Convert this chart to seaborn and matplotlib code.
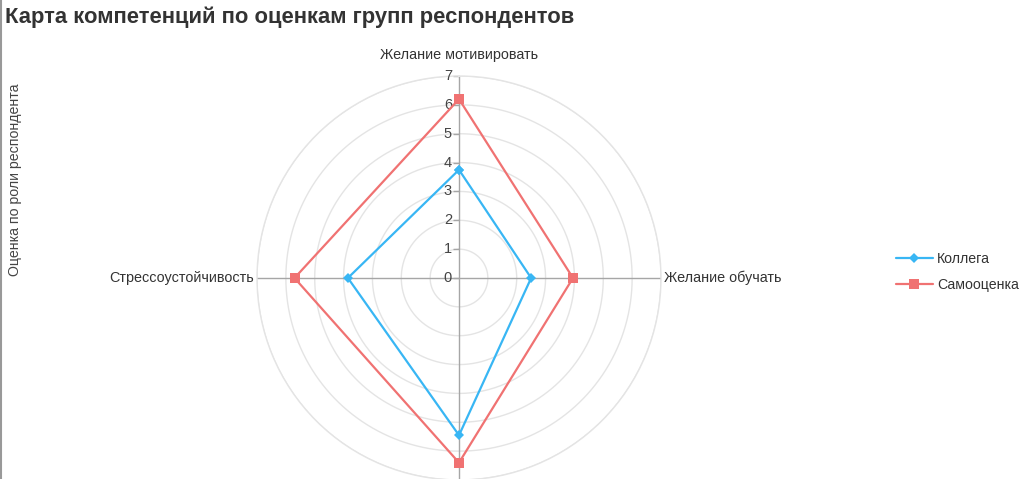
import numpy as np
import pandas as pd
import matplotlib
matplotlib.use("Agg")
import matplotlib.pyplot as plt
import matplotlib.transforms as mtransforms
from matplotlib.lines import Line2D
import seaborn as sns

# data
categories = ['Желание мотивировать', 'Желание обучать', 'Ответственность', 'Стрессоустойчивость']
shown_labels = ['Желание мотивировать', 'Желание обучать', '', 'Стрессоустойчивость']
colleague = [3.75, 2.5, 5.45, 3.85]
self_rating = [6.2, 3.95, 6.4, 5.7]
series_names = ['Коллега', 'Самооценка']
r_ticks = [0, 1, 2, 3, 4, 5, 6, 7]

colors = {'Коллега': '#38B6F4', 'Самооценка': '#F07272'}
markers = {'Коллега': 'D', 'Самооценка': 's'}
msize = {'Коллега': 5, 'Самооценка': 6.5}

sns.set_style('white')
plt.rcParams['font.family'] = ['Liberation Sans', 'DejaVu Sans']

# long table, each series closed back to its first point (at 2*pi)
angles = np.linspace(0, 2 * np.pi, len(categories), endpoint=False)
rows = []
for name, vals in zip(series_names, [colleague, self_rating]):
    for a, v in zip(angles, vals):
        rows.append({'theta': a, 'r': v, 'series': name})
    rows.append({'theta': 2 * np.pi, 'r': vals[0], 'series': name})
df = pd.DataFrame(rows)

fig = plt.figure(figsize=(10.24, 4.79), dpi=100)
W, H = 1024, 479
cx, cy, rad = 459, 278, 202
ax = fig.add_axes([(cx - rad) / W, (H - cy - rad) / H, 2 * rad / W, 2 * rad / H],
                  projection='polar')
ax.set_theta_zero_location('N')
ax.set_theta_direction(-1)

sns.lineplot(data=df, x='theta', y='r', hue='series', style='series',
             palette=colors, markers=markers, dashes=False, sort=False,
             linewidth=1.6, markersize=6, markeredgewidth=0, ax=ax, legend=False)
for line, name in zip(ax.lines, series_names):
    line.set_markersize(msize[name])
    line.set_zorder(5)

ax.set_ylim(0, 7)
ax.set_yticks(r_ticks)
ax.set_yticklabels([])
ax.set_xticks(angles)
ax.set_xticklabels([])
ax.grid(False)
ax.spines['polar'].set_color('#e4e4e4')
ax.spines['polar'].set_linewidth(1)
ax.set_xlabel('')
ax.set_ylabel('')

# circular grid
tt = np.linspace(0, 2 * np.pi, 361)
for r in r_ticks[1:]:
    ax.plot(tt, np.full_like(tt, r), color='#e4e4e4', lw=1, zorder=0)
# spokes
for a in angles:
    ax.plot([a, a], [0, 7], color='#a6a6a6', lw=1, zorder=1)

# radial tick labels along the top spoke
off = mtransforms.offset_copy(ax.transData, fig=fig, x=-5, y=0, units='points')
for r in r_ticks:
    ax.text(0, r, str(r), transform=off, ha='right', va='center', fontsize=10.5,
            color='#444444')
    ax.plot([0], [r], marker=0, color='#a6a6a6', markersize=4, mew=1, clip_on=False)

# category labels
fs = 10.4
for a, lab in zip(angles, shown_labels):
    if not lab:
        continue
    deg = np.degrees(a)
    if np.isclose(deg, 0):
        ax.text(a, 7, lab, transform=mtransforms.offset_copy(ax.transData, fig=fig, x=0, y=15, units='points'),
                ha='center', va='center', fontsize=fs, color='#333333')
    elif np.isclose(deg, 90):
        ax.text(a, 7, lab, transform=mtransforms.offset_copy(ax.transData, fig=fig, x=2, y=0, units='points'),
                ha='left', va='center', fontsize=fs, color='#333333')
    elif np.isclose(deg, 270):
        ax.text(a, 7, lab, transform=mtransforms.offset_copy(ax.transData, fig=fig, x=-2, y=0, units='points'),
                ha='right', va='center', fontsize=fs, color='#333333')

fig.text(5 / W, 1 - 17 / H, 'Карта компетенций по оценкам групп респондентов',
         fontsize=15.8, fontweight='bold', color='#333333', ha='left', va='center')
fig.text(15 / W, 1 - 180 / H, 'Оценка по роли респондента', rotation=90,
         fontsize=10.2, color='#444444', ha='center', va='center')

handles = [Line2D([], [], color=colors[n], marker=markers[n], lw=1.6,
                  markersize=msize[n], mew=0) for n in series_names]
fig.legend(handles, series_names, loc='center left', bbox_to_anchor=(883 / W, 1 - 272 / H),
           frameon=False, fontsize=10.2, handlelength=2.6, handletextpad=0.3,
           labelspacing=0.8, labelcolor='#333333')

fig.add_artist(Line2D([1 / W, 1 / W], [0, 1], color='#999999', lw=1.5))

fig.savefig('out.png', dpi=100)
